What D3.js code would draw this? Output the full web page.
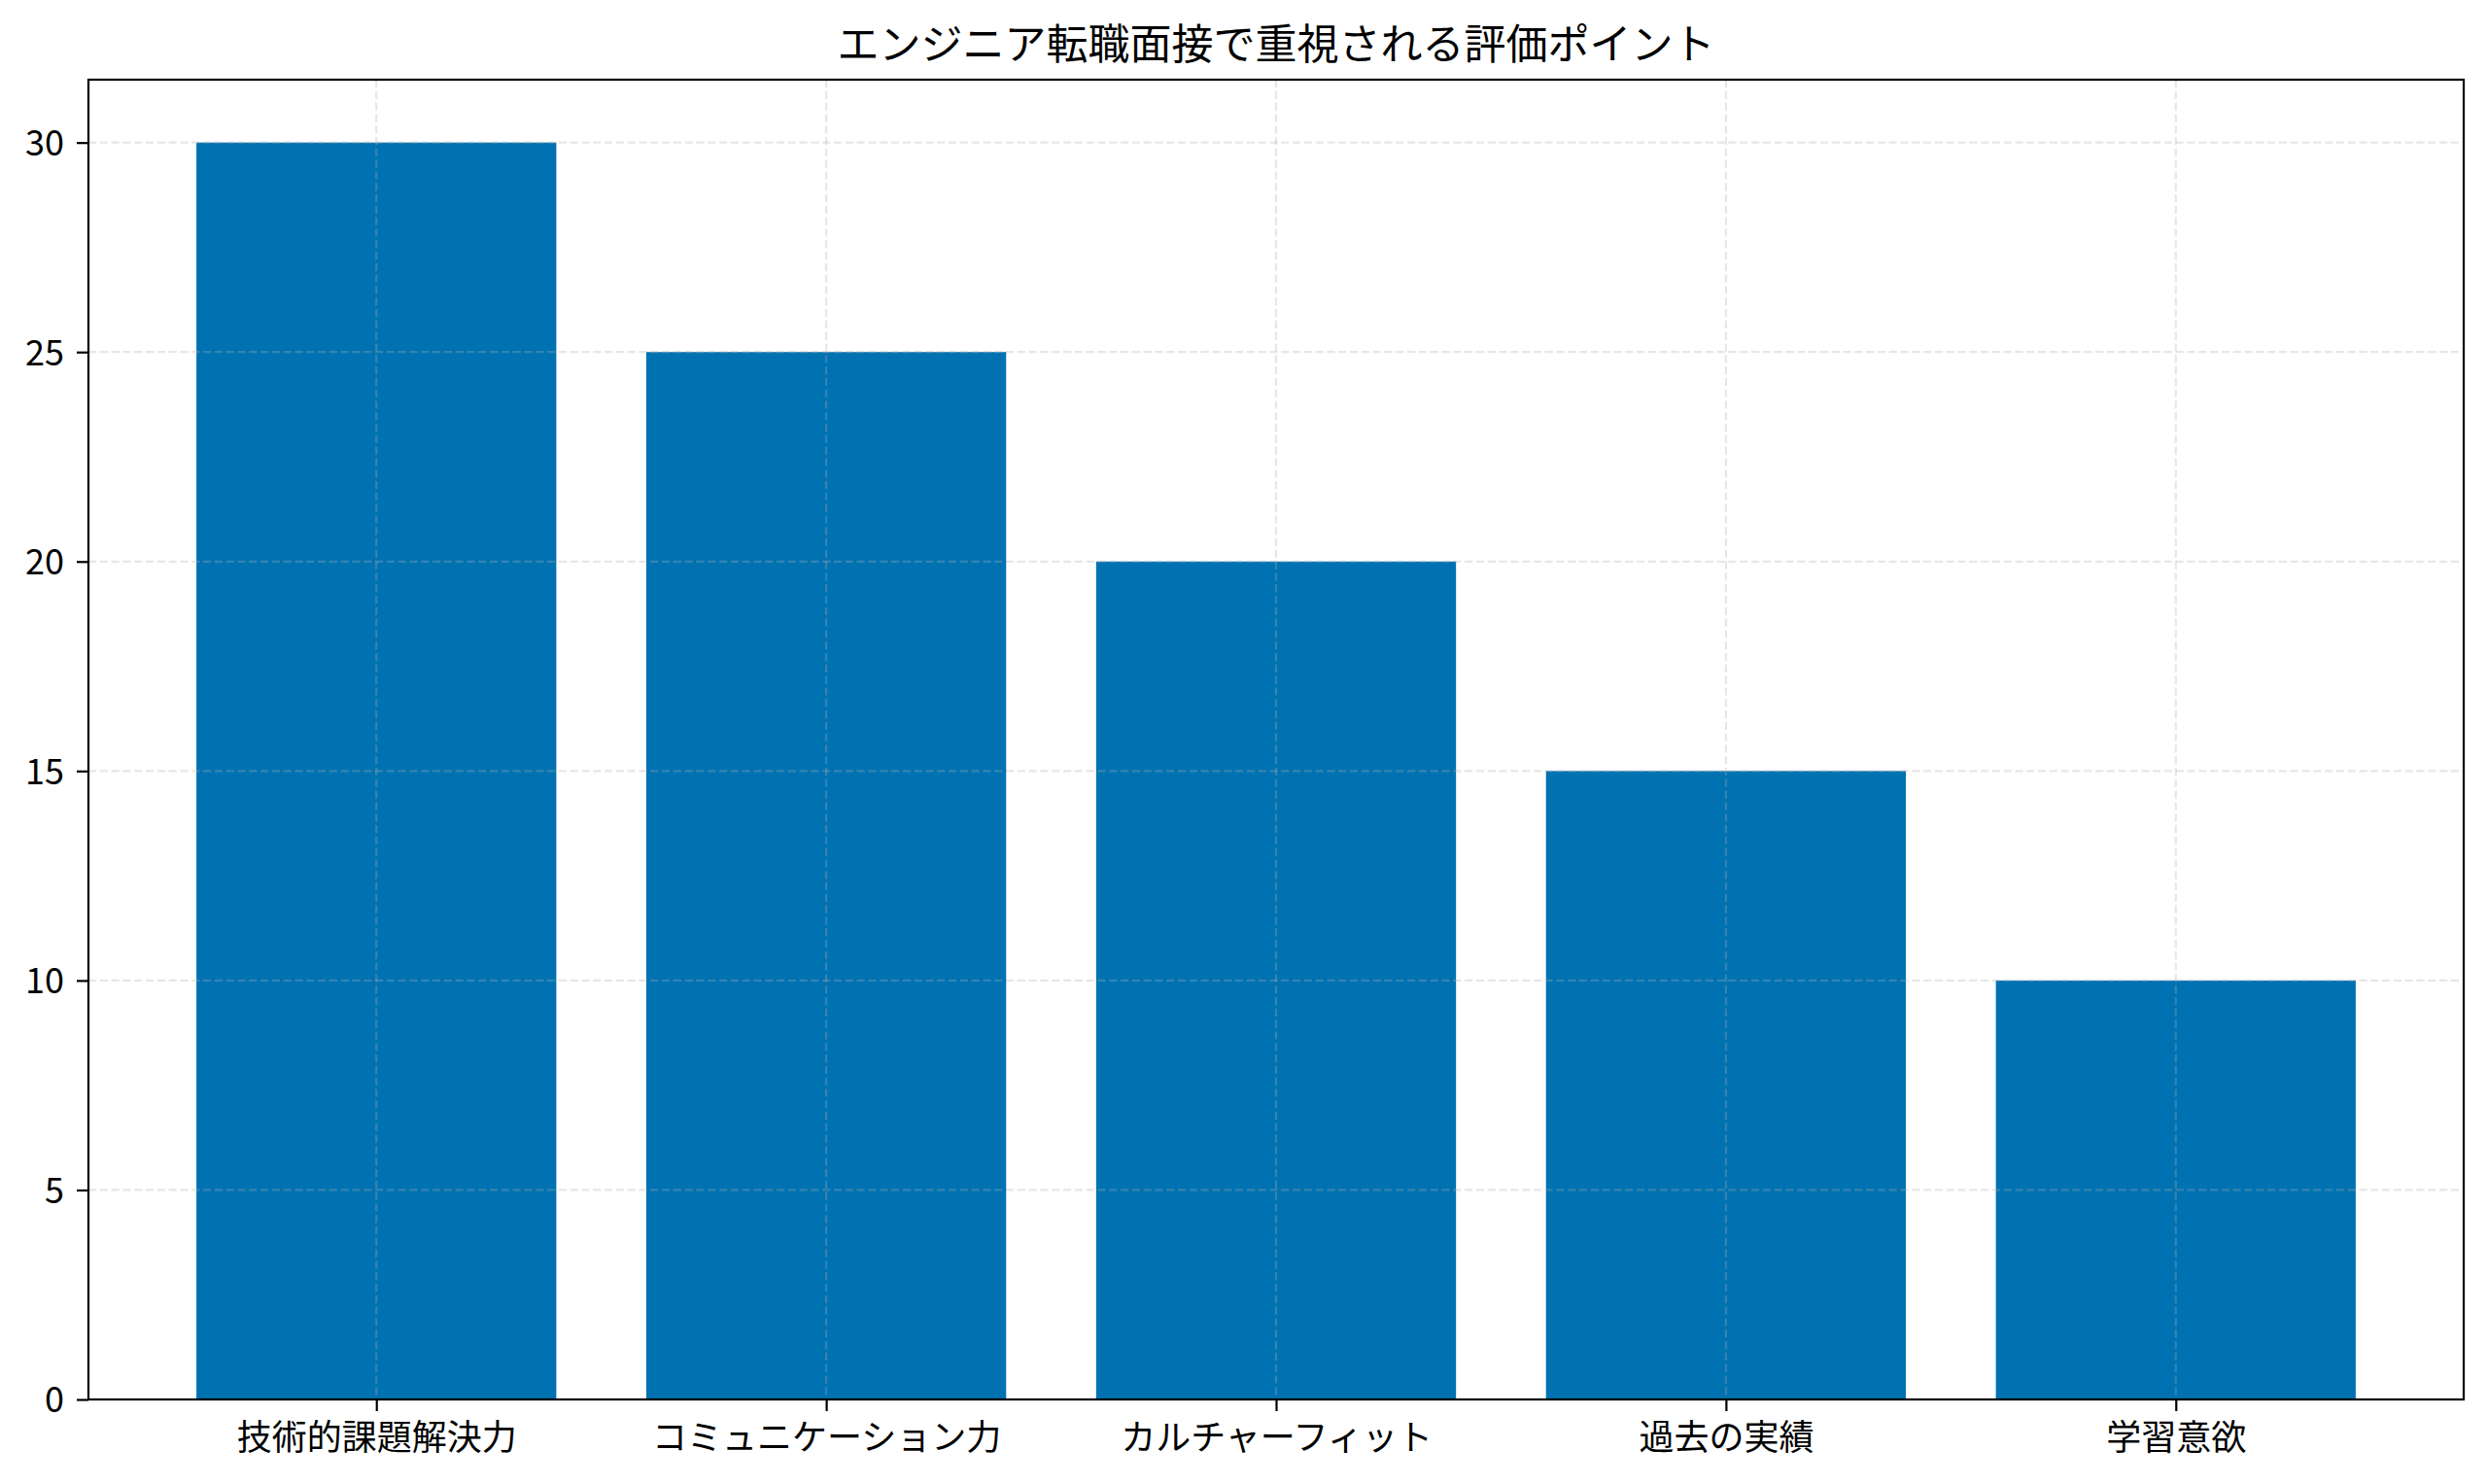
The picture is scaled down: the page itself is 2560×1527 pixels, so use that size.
<!DOCTYPE html>
<html>
  <head>
    <meta charset="utf-8">
    <script src="https://d3js.org/d3.v7.min.js"></script>

    <style>
      body {
        margin: 0;
        background: #ffffff;
      }

      text {
        font-family: "Noto Sans CJK JP", "Noto Sans", sans-serif;
        fill: #000000;
      }
    </style>
  </head>
<body>
  <script type="text/javascript">
  /*
    Chart data
  */
  var categories = ["技術的課題解決力", "コミュニケーション力", "カルチャーフィット", "過去の実績", "学習意欲"];
  var values = [30, 25, 20, 15, 10];
  var yTicks = [0, 5, 10, 15, 20, 25, 30];
  var chartTitle = "エンジニア転職面接で重視される評価ポイント";

  function draw() {
      "use strict";
      var width = 2560,
          height = 1527,
          margin = {top: 82, right: 25, bottom: 87, left: 91};

      var plotW = width - margin.left - margin.right,
          plotH = height - margin.top - margin.bottom;

      var svg = d3.select("body")
        .append("svg")
          .attr("width", width)
          .attr("height", height);

      var g = svg.append("g")
          .attr("transform", "translate(" + margin.left + "," + margin.top + ")");

      // x is numeric like matplotlib: bars at 0..n-1, width 0.8, 5% padding
      var n = categories.length;
      var pad = (n - 1 + 0.8) * 0.05;
      var x = d3.scaleLinear()
          .domain([-0.4 - pad, n - 1 + 0.4 + pad])
          .range([0, plotW]);

      var y = d3.scaleLinear()
          .domain([0, d3.max(values) * 1.05])
          .range([plotH, 0]);

      // Bars
      g.selectAll("rect.bar")
          .data(values)
        .enter().append("rect")
          .attr("class", "bar")
          .attr("x", function (d, i) { return x(i - 0.4); })
          .attr("width", function (d, i) { return x(i + 0.4) - x(i - 0.4); })
          .attr("y", function (d) { return y(d); })
          .attr("height", function (d) { return y(0) - y(d); })
          .style("fill", "#0072B2");

      // Grid lines (drawn over the bars, like matplotlib's default)
      var grid = g.append("g").attr("class", "grid");
      grid.selectAll("line.h")
          .data(yTicks)
        .enter().append("line")
          .attr("x1", 0).attr("x2", plotW)
          .attr("y1", function (d) { return y(d); })
          .attr("y2", function (d) { return y(d); });
      grid.selectAll("line.v")
          .data(categories)
        .enter().append("line")
          .attr("x1", function (d, i) { return x(i); })
          .attr("x2", function (d, i) { return x(i); })
          .attr("y1", 0).attr("y2", plotH);
      grid.selectAll("line")
          .style("stroke", "#b0b0b0")
          .style("stroke-opacity", 0.3)
          .style("stroke-width", 2.2)
          .style("stroke-dasharray", "8.2,3.6");

      // Axes
      var yAxis = d3.axisLeft(y)
          .tickValues(yTicks)
          .tickSize(12)
          .tickPadding(13)
          .tickFormat(d3.format("d"));

      var xAxis = d3.axisBottom(x)
          .tickValues(d3.range(n))
          .tickSize(12)
          .tickPadding(10)
          .tickFormat(function (d) { return categories[d]; });

      var gy = g.append("g").call(yAxis);
      var gx = g.append("g")
          .attr("transform", "translate(0," + plotH + ")")
          .call(xAxis);

      [gx, gy].forEach(function (ax) {
          ax.select(".domain").remove();
          ax.selectAll("line").style("stroke", "#000").style("stroke-width", 2.2);
          ax.selectAll("text")
              .style("font-size", "36px")
              .style("fill", "#000");
      });
      gy.selectAll("text").attr("dy", "0.36em");
      gx.selectAll("text").attr("dy", "0.83em");

      // Frame (all four spines)
      g.append("rect")
          .attr("x", 0).attr("y", 0)
          .attr("width", plotW).attr("height", plotH)
          .style("fill", "none")
          .style("stroke", "#000")
          .style("stroke-width", 2.2);

      // Title
      svg.append("text")
          .attr("x", margin.left + plotW / 2)
          .attr("y", margin.top - 21)
          .style("text-anchor", "middle")
          .style("font-size", "43px")
          .text(chartTitle);
  }

  draw();
  </script>
</body>
</html>
